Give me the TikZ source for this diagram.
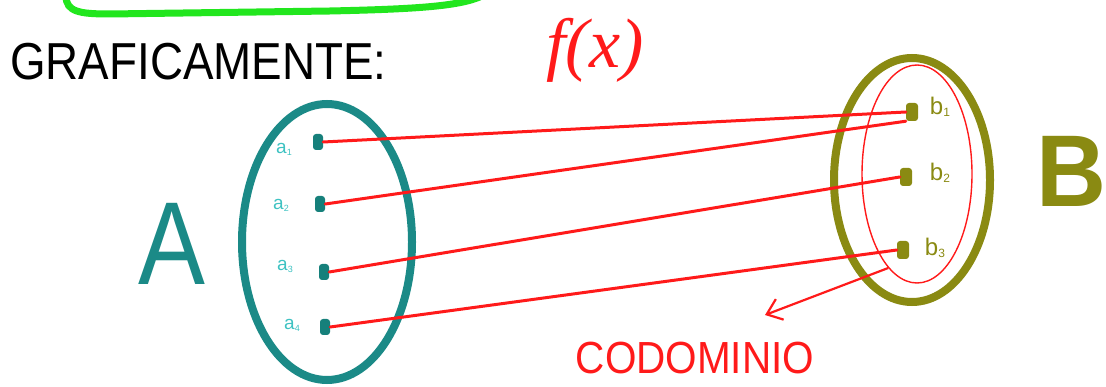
\documentclass[tikz,border=0pt]{standalone}
\usepackage{fontspec}
\setmainfont{Liberation Sans}
\newfontfamily\fxfont{Liberation Serif}
\usetikzlibrary{shapes.geometric,arrows.meta}
\definecolor{tealA}{HTML}{1B8A87}
\definecolor{tealdot}{HTML}{16807B}
\definecolor{teallab}{HTML}{3EC2C2}
\definecolor{oliveB}{HTML}{8A8A12}
\definecolor{redf}{HTML}{FF1A1A}
\definecolor{greenhl}{HTML}{22E61E}
\newcommand{\subidx}[1]{{\fontsize{9}{9}\selectfont\raisebox{-2pt}{#1}}}
\newcommand{\subidxb}[1]{{\fontsize{12}{12}\selectfont\raisebox{-2pt}{#1}}}
\tikzset{
  setA/.style={draw=tealA, line width=8pt, ellipse, inner sep=0pt},
  setB/.style={draw=oliveB, line width=8pt, ellipse, inner sep=0pt},
  adot/.style={fill=tealdot, rounded corners=3pt, minimum width=10pt, minimum height=16pt, inner sep=0pt},
  bdot/.style={fill=oliveB, rounded corners=3pt, minimum width=12pt, minimum height=18pt, inner sep=0pt},
  alab/.style={text=teallab, font=\fontsize{19}{19}\selectfont, inner sep=0pt},
  blab/.style={text=oliveB, font=\fontsize{24}{24}\selectfont, inner sep=0pt},
  maplink/.style={draw=redf, line width=3pt, line cap=round},
}
\begin{document}
\begin{tikzpicture}[x=1pt,y=-1pt]
\useasboundingbox (0,0) rectangle (1106,387);
% green highlight stroke
\draw[greenhl, line width=7pt, line cap=round] (66,-4) .. controls (66,12) and (80,14) .. (110,14) -- (330,11) .. controls (420,9) and (460,6) .. (482,-4);
% title
\node[anchor=west, font=\fontsize{52}{52}\selectfont, xscale=0.88, inner sep=0pt] (title) at (10,62) {GRAFICAMENTE:};
\node[text=redf, font=\fxfont\itshape\fontsize{70}{70}\selectfont, inner sep=0pt] (fx) at (595,50) {f(x)};
% set A
\node[setA, minimum width=170pt, minimum height=276pt] (A) at (327,242) {};
\node[text=tealA, font=\fontsize{118}{118}\selectfont, xscale=0.85, inner sep=0pt] (Alab) at (172,244) {A};
\node[adot] (a1) at (318,142) {};
\node[adot] (a2) at (320,204) {};
\node[adot] (a3) at (324,272) {};
\node[adot] (a4) at (325,327) {};
\node[alab] (la1) at (284,149) {a\subidx{1}};
\node[alab] (la2) at (281,205) {a\subidx{2}};
\node[alab] (la3) at (285,266) {a\subidx{3}};
\node[alab] (la4) at (292,325) {a\subidx{4}};
% set B
\node[setB, minimum width=156pt, minimum height=244pt] (B) at (912,180) {};
\node[draw=redf, line width=1.4pt, ellipse, minimum width=110pt, minimum height=218pt, inner sep=0pt] (cod) at (917,174) {};
\node[text=oliveB, font=\bfseries\fontsize{102}{102}\selectfont, xscale=0.95, anchor=west, inner sep=0pt] (Blab) at (1036,171) {B};
\node[bdot] (b1) at (912,112) {};
\node[bdot] (b2) at (906,177) {};
\node[bdot] (b3) at (903,250) {};
\node[blab] (lb1) at (940,107) {b\subidxb{1}};
\node[blab] (lb2) at (940,173) {b\subidxb{2}};
\node[blab] (lb3) at (935,248) {b\subidxb{3}};
% mapping
\draw[maplink] (a1.east) -- (b1.west);
\draw[maplink] (a2.east) -- (b1.south west);
\draw[maplink] (a3.east) -- (b2.west);
\draw[maplink] (a4.east) -- (b3.west);
% codomain arrow
\coordinate (tip) at (765,315);
\draw[redf, line width=2.2pt, -{Straight Barb[length=14pt,width=22pt,line width=2.2pt]}] (cod.253) -- (tip);
\node[text=redf, font=\fontsize{45}{45}\selectfont, xscale=0.9, inner sep=0pt] (codlab) at (695,358) {CODOMINIO};
\end{tikzpicture}
\end{document}
